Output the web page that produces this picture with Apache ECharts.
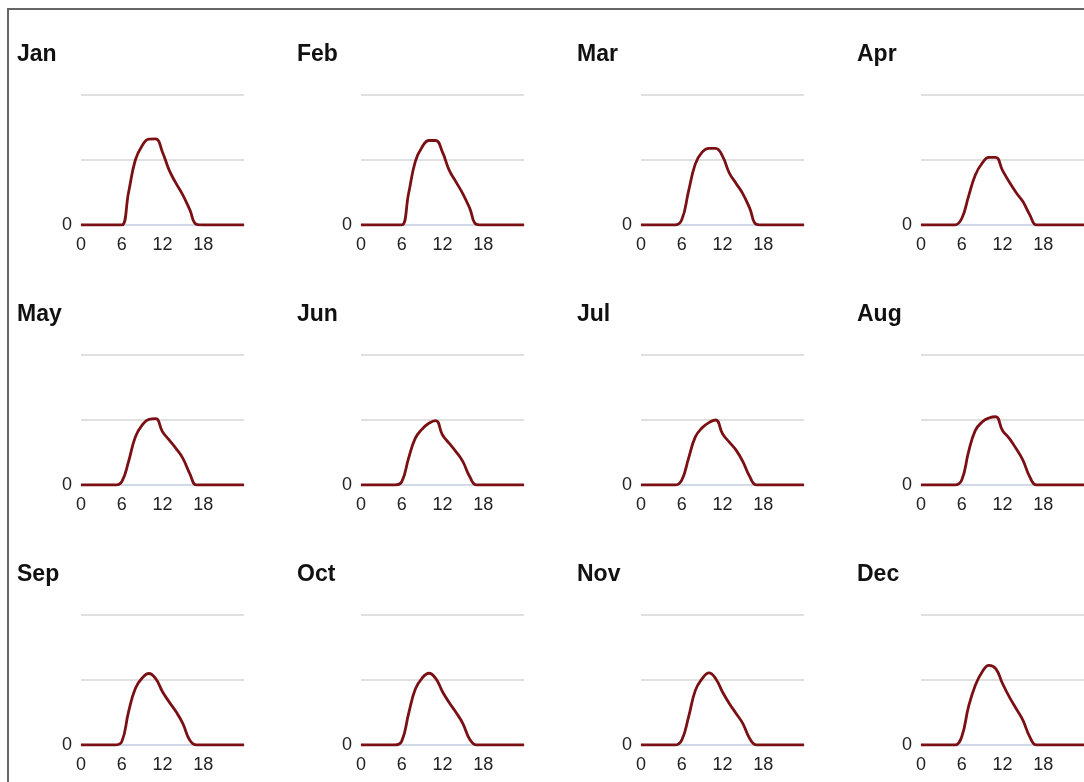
<!DOCTYPE html>
<html>
<head>
<meta charset="utf-8">
<title>Daily profile by month</title>
<script src="https://cdn.jsdelivr.net/npm/echarts@6/dist/echarts.min.js"></script>
<style>
  html, body { margin: 0; padding: 0; background: #fff; overflow: hidden; }
  #frame { position: absolute; left: 7px; top: 8px; width: 1200px; height: 900px; border: 2px solid #666; }
  #chart { position: absolute; left: 0; top: 0; width: 1084px; height: 782px; }
</style>
</head>
<body>
<div id="frame"></div>
<div id="chart"></div>
<script>
// hour of day, 0..24
var hours = [0,1,2,3,4,5,6,7,8,9,10,11,12,13,14,15,16,17,18,19,20,21,22,23,24];
var months = ['Jan','Feb','Mar','Apr','May','Jun','Jul','Aug','Sep','Oct','Nov','Dec'];
var xTicks = [0, 6, 12, 18];

// values (grid lines at 500 and 1000)
var jan = [0,0,0,0,0,0, 0,250,500,610,660,662,560,420,320,230,120,5, 0,0,0,0,0,0,0];
var feb = [0,0,0,0,0,0, 0,240,490,600,650,650,560,420,330,240,130,5, 0,0,0,0,0,0,0];
var mar = [0,0,0,0,0,0, 40,260,470,560,590,590,530,400,320,240,130,5, 0,0,0,0,0,0,0];
var apr = [0,0,0,0,0,0, 50,220,385,475,520,520,420,330,250,180,80,0, 0,0,0,0,0,0,0];
var may = [0,0,0,0,0,0, 25,180,370,460,505,510,410,345,280,205,90,0, 0,0,0,0,0,0,0];
var jun = [0,0,0,0,0,0, 25,205,360,430,475,495,385,320,255,180,65,0, 0,0,0,0,0,0,0];
var jul = [0,0,0,0,0,0, 38,205,370,440,480,500,395,330,268,180,65,0, 0,0,0,0,0,0,0];
var aug = [0,0,0,0,0,0, 38,255,420,485,515,525,420,358,280,192,64,0, 0,0,0,0,0,0,0];
var sep = [0,0,0,0,0,0, 25,255,435,515,550,510,410,330,255,165,38,0, 0,0,0,0,0,0,0];
var oct = [0,0,0,0,0,0, 30,240,430,515,552,512,410,325,250,165,45,0, 0,0,0,0,0,0,0];
var nov = [0,0,0,0,0,0, 38,215,420,510,555,510,408,320,243,165,50,0, 0,0,0,0,0,0,0];
var dec = [0,0,0,0,0,0, 64,295,460,562,613,588,473,370,281,192,64,0, 0,0,0,0,0,0,0];
var monthValues = [jan, feb, mar, apr, may, jun, jul, aug, sep, oct, nov, dec];

var chart = echarts.init(document.getElementById('chart'));

var titles = [], grids = [], xAxes = [], yAxes = [], series = [];
var fontFamily = '"Liberation Sans", Arial, sans-serif';

months.forEach(function (name, i) {
  var col = i % 4, row = Math.floor(i / 4);
  titles.push({
    text: name,
    left: 17 + 280 * col,
    top: 43 + 260 * row,
    padding: 0,
    textStyle: { fontSize: 23, fontWeight: 'bold', color: '#111', fontFamily: fontFamily }
  });
  grids.push({ left: 81 + 280 * col, top: 95 + 260 * row, width: 163, height: 130 });
  xAxes.push({
    type: 'value', gridIndex: i, min: 0, max: 24, interval: 6,
    axisLine: { show: true, lineStyle: { color: '#ccd6eb', width: 1.5 } },
    axisTick: { show: false },
    splitLine: { show: false },
    axisLabel: {
      margin: 11, fontSize: 18, color: '#222', fontFamily: fontFamily,
      showMaxLabel: false,
      formatter: function (v) { return xTicks.indexOf(v) >= 0 ? String(v) : ''; }
    }
  });
  yAxes.push({
    type: 'value', gridIndex: i, min: 0, max: 1000, interval: 500,
    axisLine: { show: false }, axisTick: { show: false },
    splitLine: { lineStyle: { color: '#d6d6d6', width: 1.5 } },
    axisLabel: {
      margin: 9, fontSize: 18, color: '#222', fontFamily: fontFamily,
      formatter: function (v) { return v === 0 ? '0' : ''; }
    }
  });
  series.push({
    type: 'line', xAxisIndex: i, yAxisIndex: i,
    smooth: 0.45, symbol: 'none', silent: true,
    lineStyle: { color: '#7a1014', width: 2.8 },
    data: hours.map(function (h, k) { return [h, monthValues[i][k]]; })
  });
});

chart.setOption({
  animation: false,
  title: titles,
  grid: grids,
  xAxis: xAxes,
  yAxis: yAxes,
  series: series
});
</script>
</body>
</html>
